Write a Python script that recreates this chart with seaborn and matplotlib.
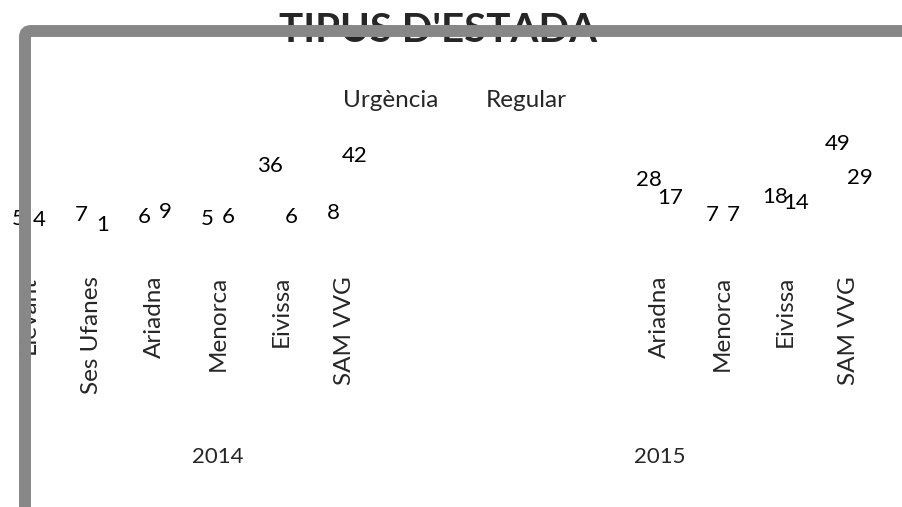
import numpy as np
import pandas as pd
import matplotlib
matplotlib.use("Agg")
import matplotlib.pyplot as plt
import seaborn as sns
from matplotlib.patches import FancyBboxPatch
from matplotlib.transforms import blended_transform_factory

# dades llegides del gràfic
anys = ["2014"] * 6 + ["2015"] * 4
centres = ["Llevant", "Ses Ufanes", "Ariadna", "Menorca", "Eivissa", "SAM VVG",
           "Ariadna", "Menorca", "Eivissa", "SAM VVG"]
urgencia = [5, 7, 6, 5, 36, 8, 28, 7, 18, 49]
regular = [4, 1, 9, 6, 6, 42, 17, 7, 14, 29]
series = ["Urgència", "Regular"]

# ordre de categories (amb buits com a l'original)
ordre = ["2014|Llevant", "2014|Ses Ufanes", "2014|Ariadna", "2014|Menorca",
         "2014|Eivissa", "2014|SAM VVG", "2014|",
         "2015|_1", "2015|_2", "2015|_3",
         "2015|Ariadna", "2015|Menorca", "2015|Eivissa", "2015|SAM VVG"]

claus = [a + "|" + c for a, c in zip(anys, centres)]
df = pd.DataFrame({
    "cat": claus * 2,
    "tipus": [series[0]] * len(claus) + [series[1]] * len(claus),
    "n": urgencia + regular,
})

sns.set_theme(style="white")
plt.rcParams["font.family"] = ["Lato", "DejaVu Sans"]

W, H = 902, 507
fig = plt.figure(figsize=(W / 100, H / 100), dpi=100)
fig.patch.set_facecolor("white")

# eix: y=0 a 237 px des de dalt, 1.69 px per unitat
px_per = 1.69
y0_pix = 237
ymin, ymax = -23, 60
bottom_pix = y0_pix - ymin * px_per
top_pix = y0_pix - ymax * px_per
ax = fig.add_axes([0, (H - bottom_pix) / H, 1, (bottom_pix - top_pix) / H])

sns.barplot(data=df, x="cat", y="n", hue="tipus", order=ordre, hue_order=series,
            palette={"Urgència": "white", "Regular": "white"}, width=0.68,
            edgecolor="none", ax=ax)
ax.set_ylim(ymin, ymax)
ax.set_xlim(-0.452, 13.843)

fs_num = 16
fs_txt = 17.5
for cont in ax.containers:
    ax.bar_label(cont, padding=0, fontsize=fs_num, color="black")

ax.set_xticks(range(len(ordre)))
ax.set_xticklabels([o.split("|")[1] if not o.split("|")[1].startswith("_") else "" for o in ordre],
                   rotation=90, fontsize=fs_txt, va="top")
ax.tick_params(axis="x", length=0, pad=0)
ax.set_yticks([])
ax.set_xlabel("")
ax.set_ylabel("")
for s in ax.spines.values():
    s.set_visible(False)
ax.set_facecolor("none")

# etiquetes d'any
tr = blended_transform_factory(ax.transData, fig.transFigure)
ax.text(3, (H - 457) / H, "2014", transform=tr, ha="center", va="center", fontsize=fs_num)
ax.text(10, (H - 457) / H, "2015", transform=tr, ha="center", va="center", fontsize=fs_num)

# llegenda
sns.move_legend(ax, "center left", bbox_to_anchor=(324 / W, (H - 100) / H),
                bbox_transform=fig.transFigure, ncol=2, frameon=False, title=None,
                fontsize=fs_txt, handlelength=0.5, handletextpad=0.3, columnspacing=1.13,
                borderpad=0, borderaxespad=0)

# títol
fig.text(438 / W, (H - 42) / H, "TIPUS D'ESTADA", ha="center", va="baseline",
         fontsize=29, fontweight="bold", zorder=1)

# vora gris de l'àrea del gràfic
vora = FancyBboxPatch((25, -60), 1000, H - 31 + 60, boxstyle="round,pad=0,rounding_size=6",
                      transform=None, facecolor="none", edgecolor="#878787",
                      linewidth=8.6, zorder=10)
fig.patches.append(vora)

fig.savefig("out.png", dpi=100)
